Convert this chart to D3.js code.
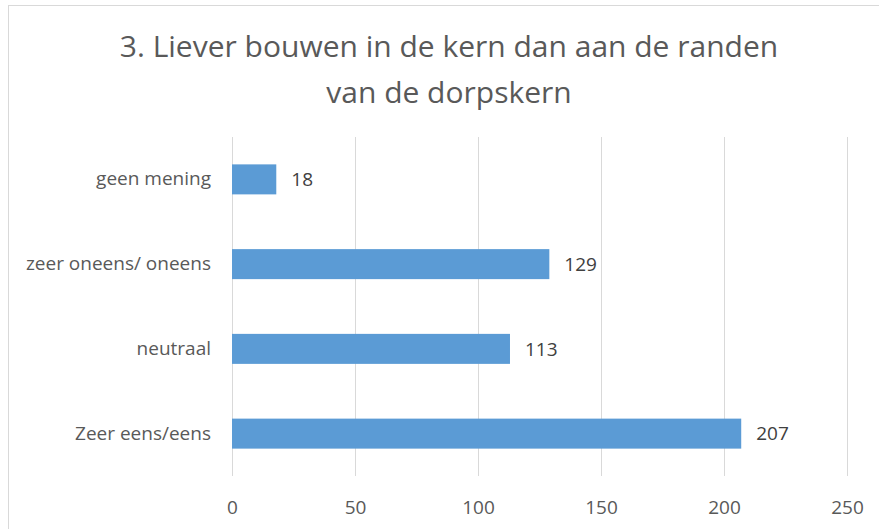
<!DOCTYPE html>
<html lang="nl">
<head>
<meta charset="utf-8">
<title>Liever bouwen in de kern</title>
<script src="https://cdn.jsdelivr.net/npm/d3@7"></script>
<style>
body { margin: 0; background: #fff; }
svg text { font-family: "Open Sans", "Noto Sans", sans-serif; }
.grid line { stroke: #d9d9d9; stroke-width: 1px; shape-rendering: crispEdges; }
.grid path { display: none; }
.axis path, .axis line { display: none; }
.axis text { fill: #595959; font-size: 19px; }
.bar { fill: #5b9bd5; }
.lbl { fill: #404040; font-size: 19px; }
.title { fill: #595959; font-size: 30px; }
</style>
</head>
<body>
<svg width="879" height="529"></svg>
<script>
// data
var categories = ["Zeer eens/eens", "neutraal", "zeer oneens/ oneens", "geen mening"];
var counts = [207, 113, 129, 18];
var xTicks = [0, 50, 100, 150, 200, 250];
var titleLines = ["3. Liever bouwen in de kern dan aan de randen", "van de dorpskern"];

var svg = d3.select("svg"),
    margin = {top: 137, right: 32, bottom: 53, left: 232},
    width = +svg.attr("width") - margin.left - margin.right,
    height = +svg.attr("height") - margin.top - margin.bottom;

// chart frame
svg.append("rect")
    .attr("x", 8.5).attr("y", 5.5)
    .attr("width", 900).attr("height", 600)
    .attr("fill", "#fff").attr("stroke", "#d9d9d9");

svg.append("text")
    .attr("class", "title")
    .attr("text-anchor", "middle")
    .selectAll("tspan")
    .data(titleLines)
  .enter().append("tspan")
    .attr("x", 449)
    .attr("y", function(d, i) { return 57 + i * 46; })
    .text(function(d) { return d; });

var x = d3.scaleLinear().domain([0, 250]).range([0, 615]);
var y = d3.scaleBand().domain(categories).range([height, 0]).paddingInner(0.646).paddingOuter(0.323);

var g = svg.append("g")
    .attr("transform", "translate(" + margin.left + "," + margin.top + ")");

g.append("g")
    .attr("class", "grid")
    .call(d3.axisBottom(x).tickValues(xTicks).tickSize(height).tickFormat(""));

g.append("g")
    .attr("class", "axis x")
    .attr("transform", "translate(0," + height + ")")
    .call(d3.axisBottom(x).tickValues(xTicks).tickSize(0).tickPadding(25));

g.append("g")
    .attr("class", "axis y")
    .call(d3.axisLeft(y).tickSize(0).tickPadding(21));

var rows = categories.map(function(c, i) { return {name: c, value: counts[i]}; });

g.selectAll(".bar")
    .data(rows)
  .enter().append("rect")
    .attr("class", "bar")
    .attr("x", x(0))
    .attr("y", function(d) { return y(d.name); })
    .attr("height", y.bandwidth())
    .attr("width", function(d) { return x(d.value); });

g.selectAll(".lbl")
    .data(rows)
  .enter().append("text")
    .attr("class", "lbl")
    .attr("x", function(d) { return x(d.value) + 15; })
    .attr("y", function(d) { return y(d.name) + y.bandwidth() / 2; })
    .attr("dy", "0.35em")
    .text(function(d) { return d.value; });
</script>
</body>
</html>
